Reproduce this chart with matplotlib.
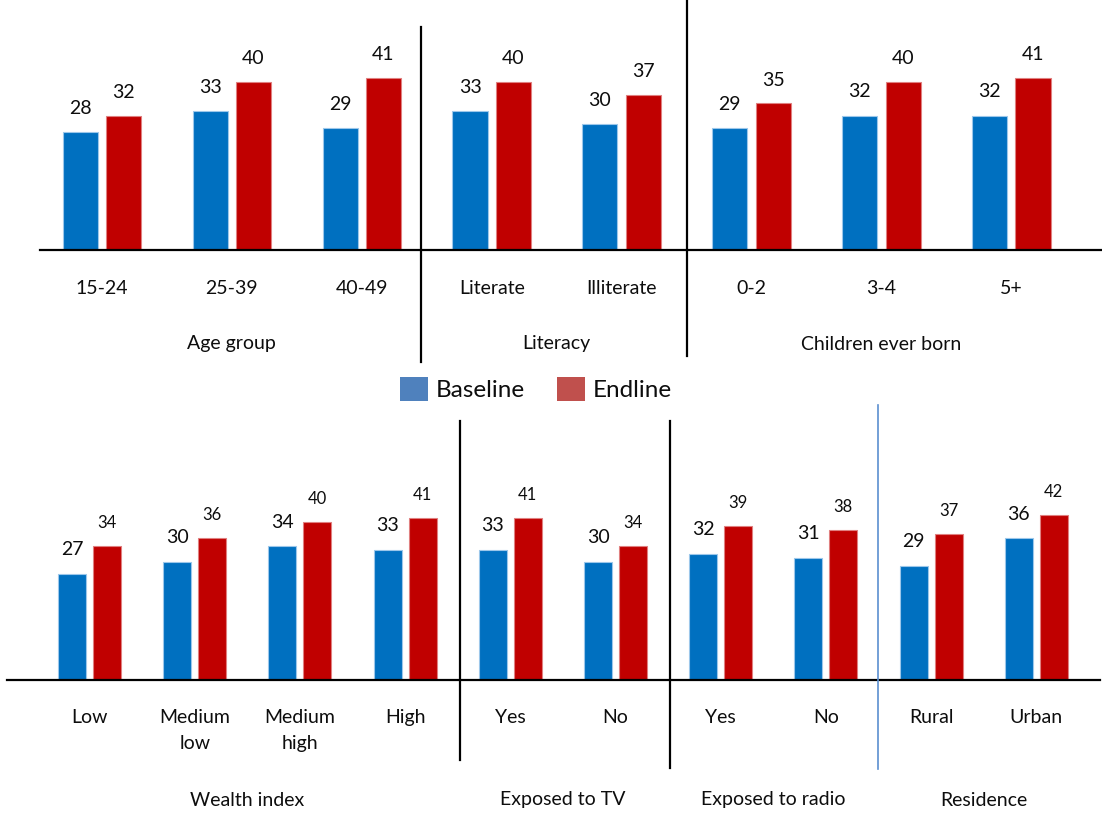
import matplotlib
matplotlib.use("Agg")
import matplotlib.pyplot as plt
from matplotlib.patches import Patch
from matplotlib.lines import Line2D

plt.rcParams['font.family'] = ['Lato', 'DejaVu Sans']

# ---- data -------------------------------------------------------------
top_categories = ["15-24", "25-39", "40-49", "Literate", "Illiterate", "0-2", "3-4", "5+"]
top_baseline = [28, 33, 29, 33, 30, 29, 32, 32]
top_endline = [32, 40, 41, 40, 37, 35, 40, 41]
top_groups = ["Age group", "Literacy", "Children ever born"]
top_group_members = [(0, 2), (3, 4), (5, 7)]

bottom_categories = ["Low", "Medium\nlow", "Medium\nhigh", "High", "Yes", "No", "Yes", "No", "Rural", "Urban"]
bottom_baseline = [27, 30, 34, 33, 33, 30, 32, 31, 29, 36]
bottom_endline = [34, 36, 40, 41, 41, 34, 39, 38, 37, 42]
bottom_groups = ["Wealth index", "Exposed to TV", "Exposed to radio", "Residence"]
bottom_group_members = [(0, 3), (4, 5), (6, 7), (8, 9)]

BLUE = "#0070C0"
RED = "#C00000"
LEG_BLUE = "#4F81BD"
LEG_RED = "#C0504D"
TXT = "#0D0D0D"

W, H = 1102, 814
fig = plt.figure(figsize=(W / 100, H / 100), dpi=100)


def fx(px):
    return px / W


def fy(py):
    return 1 - py / H


def make_axes(left_px, right_px, base_px, height_px, first_center_px, step_px, px_per_unit):
    ax = fig.add_axes([fx(left_px), fy(base_px), fx(right_px - left_px), height_px / H])
    ax.set_xlim(-(first_center_px - left_px) / step_px, (right_px - first_center_px) / step_px)
    ax.set_ylim(0, height_px / px_per_unit)
    for s in ("top", "left", "right"):
        ax.spines[s].set_visible(False)
    ax.spines["bottom"].set_linewidth(1.6)
    ax.spines["bottom"].set_color("black")
    ax.set_xticks([])
    ax.set_yticks([])
    ax.patch.set_alpha(0)
    return ax


def draw_bars(ax, base, end, offset, width, fs_base, fs_end):
    xs = range(len(base))
    bx = [x - offset for x in xs]
    ex = [x + offset for x in xs]
    ax.bar(bx, base, width=width, color=BLUE, edgecolor="#9CC7EA", linewidth=0.8)
    ax.bar(ex, end, width=width, color=RED, edgecolor="#E08080", linewidth=0.8)
    for x, v in zip(bx, base):
        ax.annotate(str(v), (x, v), xytext=(0, 24), textcoords="offset pixels",
                    ha="center", va="center", fontsize=fs_base, color=TXT)
    for x, v in zip(ex, end):
        ax.annotate(str(v), (x, v), xytext=(0, 23), textcoords="offset pixels",
                    ha="center", va="center", fontsize=fs_end, color=TXT)


# ---- top panel --------------------------------------------------------
ax1 = make_axes(40, 1102, 250, 240, 102, 129.9, 4.2)
draw_bars(ax1, top_baseline, top_endline, 0.167, 0.27, 14, 14)
for i, lab in enumerate(top_categories):
    ax1.annotate(lab, (i, 0), xytext=(0, -38), textcoords="offset pixels",
                 ha="center", va="center", fontsize=14, color=TXT)
for name, (a, b) in zip(top_groups, top_group_members):
    ax1.annotate(name, ((a + b) / 2, 0), xytext=(0, -94), textcoords="offset pixels",
                 ha="center", va="center", fontsize=14, color=TXT)

# ---- bottom panel -----------------------------------------------------
ax2 = make_axes(7, 1100, 680, 240, 89.5, 105.2, 3.94)
draw_bars(ax2, bottom_baseline, bottom_endline, 0.166, 0.266, 14, 12)
for i, lab in enumerate(bottom_categories):
    ax2.annotate(lab, (i, 0), xytext=(0, -29), textcoords="offset pixels",
                 ha="center", va="top", fontsize=14, color=TXT,
                 linespacing=1.64)
for name, (a, b) in zip(bottom_groups, bottom_group_members):
    ax2.annotate(name, ((a + b) / 2, 0), xytext=(0, -120), textcoords="offset pixels",
                 ha="center", va="center", fontsize=14, color=TXT)

# ---- group dividers ---------------------------------------------------
dividers = [
    (421, 27, 362, "black", 1.6),
    (687, 0, 356, "black", 1.6),
    (459.5, 421, 760, "black", 1.6),
    (670, 421, 768, "black", 1.6),
    (878, 405, 769, "#5B8FD0", 1.2),
]
for x, y0, y1, c, lw in dividers:
    fig.add_artist(Line2D([fx(x), fx(x)], [fy(y0), fy(y1)], color=c, linewidth=lw,
                          transform=fig.transFigure))

# ---- legend -----------------------------------------------------------
handles = [Patch(facecolor=LEG_BLUE, label="Baseline"), Patch(facecolor=LEG_RED, label="Endline")]
fig.legend(handles=handles, loc="center", bbox_to_anchor=(fx(536), fy(389)), ncol=2,
           frameon=False, fontsize=17.5, handlelength=1.15, handleheight=1.15,
           handletextpad=0.3, columnspacing=1.35, labelcolor=TXT)

fig.savefig("out.png", dpi=100, facecolor="white")
